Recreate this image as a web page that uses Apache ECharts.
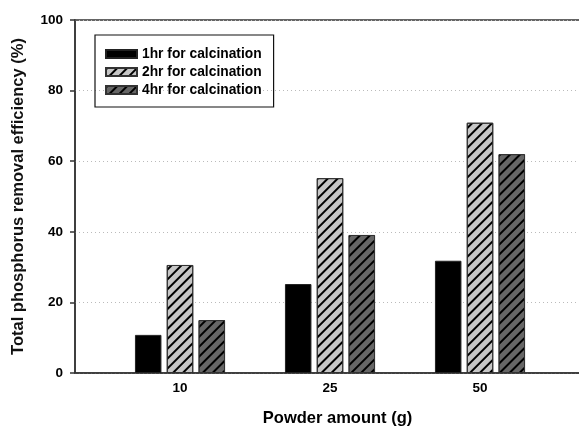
<!DOCTYPE html>
<html>
<head>
<meta charset="utf-8">
<script src="https://cdn.jsdelivr.net/npm/echarts@6/dist/echarts.min.js"></script>
<style>
html,body{margin:0;padding:0;background:#fff;}
#c{width:579px;height:426px;}
</style>
</head>
<body>
<div id="c"></div>
<script>
const categories = ['10', '25', '50'];
const seriesNames = ['1hr for calcination', '2hr for calcination', '4hr for calcination'];
const hr1 = [10.8, 25.2, 31.8];
const hr2 = [30.6, 55.2, 70.9];
const hr4 = [15.0, 39.1, 62.0];

const positions = categories.map((c, i) => i + 1);
const toPoints = arr => arr.map((v, i) => [positions[i], v]);

const FONT = '"Liberation Sans", Arial, sans-serif';
const hatch = {
  symbol: 'rect',
  symbolSize: 1,
  dashArrayX: [1, 0],
  dashArrayY: [1.3, 4.4],
  rotation: -Math.PI / 4,
  color: '#000'
};

const chart = echarts.init(document.getElementById('c'), null, {renderer: 'canvas'});
chart.setOption({
  animation: false,
  backgroundColor: '#fff',
  textStyle: {fontFamily: FONT},
  grid: {
    left: 75, top: 20, bottom: 53, right: -21,
    outerBoundsMode: 'none',
    containLabel: false,
    show: true, borderColor: '#333', borderWidth: 1.5, backgroundColor: 'transparent'
  },
  legend: {
    orient: 'vertical',
    left: 95, top: 35,
    padding: [12, 12, 10, 10],
    borderColor: '#111', borderWidth: 1.2,
    icon: 'rect',
    itemWidth: 31, itemHeight: 8, itemGap: 4,
    textStyle: {fontFamily: FONT, fontWeight: 'bold', fontSize: 13.8, color: '#000', lineHeight: 14},
    data: seriesNames
  },
  xAxis: {
    type: 'value',
    min: 0.3, max: 3.8,
    name: 'Powder amount (g)',
    nameLocation: 'middle',
    nameGap: 37,
    nameTextStyle: {fontFamily: FONT, fontWeight: 'bold', fontSize: 16.5, color: '#000'},
    axisLine: {show: true, onZero: false, lineStyle: {color: '#333', width: 1.5}},
    axisTick: {show: false},
    splitLine: {show: false},
    axisLabel: {
      customValues: positions,
      formatter: v => categories[Math.round(v) - 1] || '',
      fontFamily: FONT, fontWeight: 'bold', fontSize: 13.5, color: '#000', margin: 8
    }
  },
  yAxis: {
    type: 'value',
    min: 0, max: 100, interval: 20,
    name: 'Total phosphorus removal efficiency (%)',
    nameLocation: 'middle',
    nameGap: 48,
    nameTextStyle: {fontFamily: FONT, fontWeight: 'bold', fontSize: 16.5, color: '#111'},
    axisLine: {show: true, lineStyle: {color: '#333', width: 1.5}},
    axisTick: {show: true, inside: false, length: 5, lineStyle: {color: '#333', width: 1.5}},
    axisLabel: {fontFamily: FONT, fontWeight: 'bold', fontSize: 13.5, color: '#000', margin: 12},
    splitLine: {show: true, lineStyle: {color: '#bbb', type: [1, 3], width: 1}}
  },
  series: [
    {
      name: seriesNames[0], type: 'bar', data: toPoints(hr1),
      barWidth: 26.5, barGap: '20%',
      itemStyle: {color: '#000', borderColor: '#222', borderWidth: 1}
    },
    {
      name: seriesNames[1], type: 'bar', data: toPoints(hr2),
      barWidth: 26.5, barGap: '20%',
      itemStyle: {color: '#c6c6c6', borderColor: '#333', borderWidth: 1, decal: hatch}
    },
    {
      name: seriesNames[2], type: 'bar', data: toPoints(hr4),
      barWidth: 26.5, barGap: '20%',
      itemStyle: {color: '#666', borderColor: '#333', borderWidth: 1, decal: hatch}
    }
  ]
});
</script>
</body>
</html>
